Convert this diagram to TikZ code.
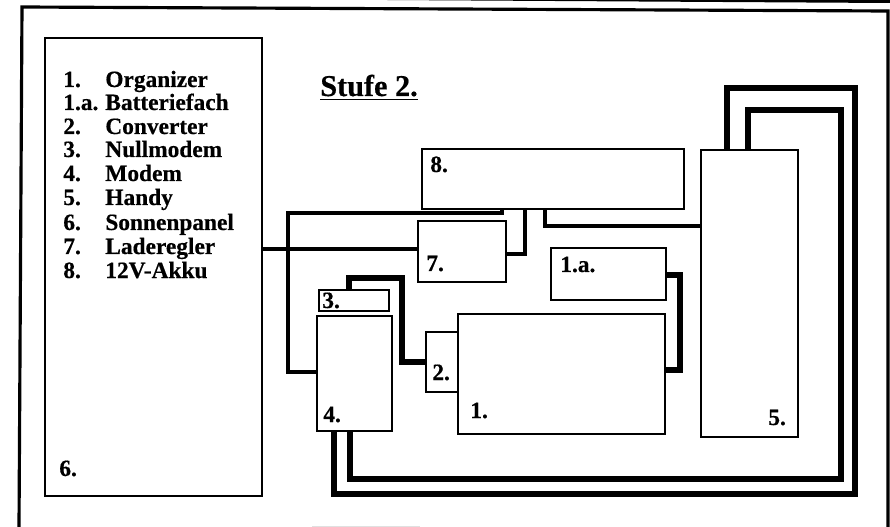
\documentclass[tikz,border=0pt]{standalone}
\usepackage{fontspec}
\setmainfont{Liberation Serif}[BoldFeatures={FakeBold=0.5}]
\tikzset{
  box/.style={draw, line width=1pt, inner sep=0pt},
  wire/.style={line width=1.8pt},
  heavywire/.style={line width=3pt},
  frameline/.style={line width=1.8pt},
  tag/.style={anchor=base west, inner sep=0pt, font=\fontsize{13.3}{16}\selectfont\bfseries},
}

\begin{document}
\begin{tikzpicture}[x=0.02cm, y=-0.02cm]
  \useasboundingbox (0,0) rectangle (890,527);

  \draw[frameline] (19,527) -- (22,7) -- (888,11) -- (888,527);
  \fill (387,0) -- (890,0) -- (890,3) -- cycle;
  \draw[black!12, line width=0.6pt] (312,526.4) -- (420,526.4);

  \node[box, minimum width=4.34cm, minimum height=9.16cm] (panel) at (153.5,267) {};
  \node[box, minimum width=5.24cm, minimum height=1.2cm] (akku) at (553,179) {};
  \node[box, minimum width=1.76cm, minimum height=1.22cm] (regler) at (462,251.5) {};
  \node[box, minimum width=2.3cm, minimum height=1.04cm] (fach) at (608.5,274) {};
  \node[box, minimum width=4.14cm, minimum height=2.4cm] (organizer) at (561.5,374) {};
  \node[box, minimum width=1.94cm, minimum height=5.74cm] (handy) at (749.5,293.5) {};
  \node[box, minimum width=0.64cm, minimum height=1.2cm] (converter) at (442,362) {};
  \node[box, minimum width=1.4cm, minimum height=0.42cm] (nullmodem) at (354,300.5) {};
  \node[box, minimum width=1.5cm, minimum height=2.3cm] (modem) at (354.5,373.5) {};

  \draw[wire] (panel.east |- 0,249) -- (regler.west |- 0,249);
  \draw[wire] (modem.west |- 0,372) -| (288,213) -| (akku.south -| 502,0);
  \draw[wire] (regler.east |- 0,254) -| (akku.south -| 525,0);
  \draw[wire] (akku.south -| 545,0) |- (handy.west |- 0,226);
  \draw[heavywire] (nullmodem.north -| 349,0) |- (402,278) |- (converter.west |- 0,362);
  \draw[heavywire] (fach.east |- 0,275) -| (680,370) -- (organizer.east |- 0,370);
  \draw[heavywire] (modem.south -| 334,0) |- (855,494) |- (727,88) -- (handy.north -| 727,0);
  \draw[heavywire] (modem.south -| 350,0) |- (841,479) |- (748,110) -- (handy.north -| 748,0);

  \node[tag] (numa) at (63,87) {1.};
  \node[tag] (nameorganizer) at (105,87) {Organizer};
  \node[tag] (numb) at (63,110) {1.a.};
  \node[tag] (namefach) at (105,110) {Batteriefach};
  \node[tag] (numc) at (63,134) {2.};
  \node[tag] (nameconverter) at (105,134) {Converter};
  \node[tag] (numd) at (63,157) {3.};
  \node[tag] (namenull) at (105,157) {Nullmodem};
  \node[tag] (nume) at (63,181) {4.};
  \node[tag] (namemodem) at (105,181) {Modem};
  \node[tag] (numf) at (63,205) {5.};
  \node[tag] (namehandy) at (105,205) {Handy};
  \node[tag] (numg) at (63,230) {6.};
  \node[tag] (namepanel) at (105,230) {Sonnenpanel};
  \node[tag] (numh) at (63,254) {7.};
  \node[tag] (nameregler) at (105,254) {Laderegler};
  \node[tag] (numi) at (63,278) {8.};
  \node[tag] (nameakku) at (105,278) {12V-Akku};

  \node[tag, font=\fontsize{17.2}{20}\selectfont\bfseries] (title) at (320,96) {\underline{Stufe 2.}};

  \node[tag] (tagakku) at (430,172) {8.};
  \node[tag] (tagregler) at (426,271) {7.};
  \node[tag] (tagfach) at (560,272) {1.a.};
  \node[tag] (tagorganizer) at (470,418) {1.};
  \node[tag] (taghandy) at (768,425) {5.};
  \node[tag] (tagconverter) at (432,380) {2.};
  \node[tag] (tagnull) at (322,308) {3.};
  \node[tag] (tagmodem) at (323,422) {4.};
  \node[tag] (tagpanel) at (59,476) {6.};
\end{tikzpicture}
\end{document}
